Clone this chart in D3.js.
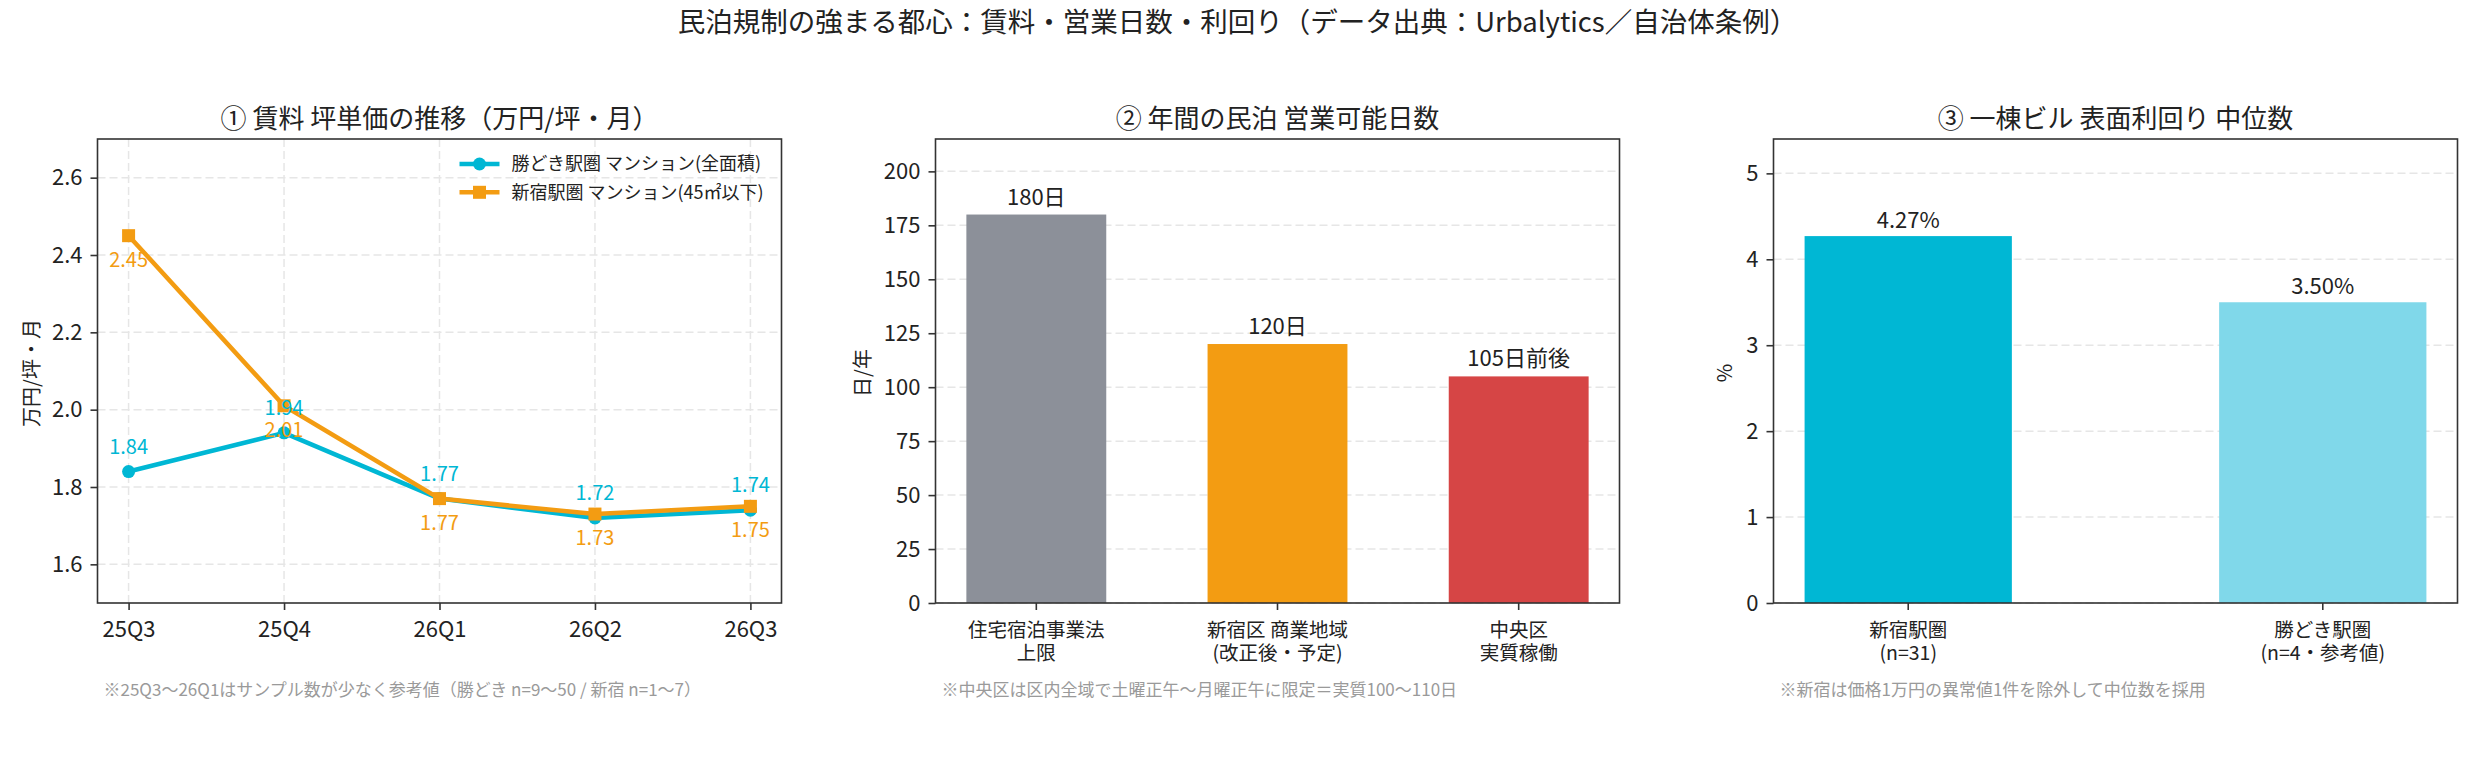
<!DOCTYPE html>
<html>
<head>
<meta charset="utf-8">
<script src="https://cdn.jsdelivr.net/npm/d3@7"></script>
<style>
  body { margin: 0; background: #fff; }
  text { font-family: "Noto Sans CJK JP", "Noto Sans", sans-serif; }
</style>
</head>
<body>
<div id="chart"></div>
<script>
// ---- data ----
var quarters = ["25Q3", "25Q4", "26Q1", "26Q2", "26Q3"];
var kachidoki_rent = [1.84, 1.94, 1.77, 1.72, 1.74];
var shinjuku_rent = [2.45, 2.01, 1.77, 1.73, 1.75];
var rent_ticks = [1.6, 1.8, 2.0, 2.2, 2.4, 2.6];

var day_categories = [["住宅宿泊事業法", "上限"], ["新宿区 商業地域", "(改正後・予定)"], ["中央区", "実質稼働"]];
var day_values = [180, 120, 105];
var day_labels = ["180日", "120日", "105日前後"];
var day_ticks = [0, 25, 50, 75, 100, 125, 150, 175, 200];

var yield_categories = [["新宿駅圏", "(n=31)"], ["勝どき駅圏", "(n=4・参考値)"]];
var yield_values = [4.27, 3.50];
var yield_labels = ["4.27%", "3.50%"];
var yield_ticks = [0, 1, 2, 3, 4, 5];

// ---- layout ----
var svg_width = 2475;
var svg_height = 780;
var panel_left = [97.5, 935.5, 1773.5];
var panel_top = 139;
var panel_width = 684;
var panel_height = 464;

var cyan = "#00b7d4";
var orange = "#f39c12";
var grid_color = "#e6e6e6";
var ink = "#222";

var svg = d3.select("#chart")
    .append("svg")
    .attr("width", svg_width)
    .attr("height", svg_height);

svg.append("text")
    .attr("x", svg_width / 2)
    .attr("y", 32)
    .attr("text-anchor", "middle")
    .attr("font-size", 27.5)
    .attr("fill", ink)
    .text("民泊規制の強まる都心：賃料・営業日数・利回り（データ出典：Urbalytics／自治体条例）");

// panel group with title, y label and footnote
function makePanel(i, title, y_label, label_x, note) {
    var g = svg.append("g")
        .attr("transform", `translate(${panel_left[i]}, ${panel_top})`);
    g.append("text")
        .attr("x", panel_width / 2)
        .attr("y", -11)
        .attr("text-anchor", "middle")
        .attr("font-size", 26)
        .attr("fill", ink)
        .text(title);
    g.append("text")
        .attr("transform", `translate(${label_x}, ${panel_height / 2 + 2}) rotate(-90)`)
        .attr("text-anchor", "middle")
        .attr("dy", "0.35em")
        .attr("font-size", 20)
        .attr("fill", ink)
        .text(y_label);
    g.append("text")
        .attr("x", 6)
        .attr("y", 557)
        .attr("font-size", 17)
        .attr("fill", "#9a9a9a")
        .text(note);
    return g;
}

function drawYAxis(g, scale, ticks, fmt) {
    var ax = g.append("g")
        .call(d3.axisLeft(scale).tickValues(ticks).tickFormat(fmt).tickSize(7).tickPadding(8));
    ax.select(".domain").remove();
    ax.selectAll(".tick line").attr("stroke", "#333").attr("stroke-width", 1.6);
    ax.selectAll(".tick text").attr("font-size", 22).attr("fill", ink);
}

function drawXAxis(g, scale, labels) {
    var ax = g.append("g")
        .attr("transform", `translate(0, ${panel_height})`)
        .call(d3.axisBottom(scale).tickSize(7).tickFormat(""));
    ax.select(".domain").remove();
    ax.selectAll(".tick line").attr("stroke", "#333").attr("stroke-width", 1.6);
    ax.selectAll(".tick text").each(function(d, i) {
        var t = d3.select(this).attr("y", null).attr("dy", null);
        var lines = labels[i];
        if (typeof lines === "string") {
            t.attr("y", 34).attr("font-size", 22).attr("fill", ink).text(lines);
        } else {
            // multi-line category label
            t.attr("font-size", 19.5).attr("fill", ink);
            lines.forEach(function(line, k) {
                t.append("tspan").attr("x", 0).attr("y", 34 + k * 23).text(line);
            });
        }
    });
}

function drawHGrid(g, scale, ticks) {
    g.append("g").selectAll("line")
        .data(ticks)
        .enter()
        .append("line")
        .attr("x1", 0)
        .attr("x2", panel_width)
        .attr("y1", d => scale(d))
        .attr("y2", d => scale(d))
        .attr("stroke", grid_color)
        .attr("stroke-width", 1.5)
        .attr("stroke-dasharray", "8,4");
}

function drawFrame(g) {
    g.append("rect")
        .attr("width", panel_width)
        .attr("height", panel_height)
        .attr("fill", "none")
        .attr("stroke", "#333")
        .attr("stroke-width", 1.6);
}

//----------------------------------------------------------------------------------
// ① rent per tsubo
var p1 = makePanel(0, "① 賃料 坪単価の推移（万円/坪・月）", "万円/坪・月", -65.5,
    "※25Q3〜26Q1はサンプル数が少なく参考値（勝どき n=9〜50 / 新宿 n=1〜7）");

var x1 = d3.scalePoint().domain(quarters).range([0, panel_width]).padding(0.2);
var y1 = d3.scaleLinear().domain([1.5, 2.7]).range([panel_height, 0]);

drawHGrid(p1, y1, rent_ticks);
p1.append("g").selectAll("line")
    .data(quarters)
    .enter()
    .append("line")
    .attr("x1", d => x1(d))
    .attr("x2", d => x1(d))
    .attr("y1", 0)
    .attr("y2", panel_height)
    .attr("stroke", grid_color)
    .attr("stroke-width", 1.5)
    .attr("stroke-dasharray", "8,4");

var rent_series = [
    { name: "勝どき駅圏 マンション(全面積)", values: kachidoki_rent, color: cyan, marker: "circle", label_dy: -18 },
    { name: "新宿駅圏 マンション(45㎡以下)", values: shinjuku_rent, color: orange, marker: "square", label_dy: 31 }
];

var rent_line = d3.line()
    .x((d, i) => x1(quarters[i]))
    .y(d => y1(d));

function drawMarker(g, s, cx, cy) {
    if (s.marker == "circle") {
        g.append("circle").attr("cx", cx).attr("cy", cy).attr("r", 6.5).attr("fill", s.color);
    } else {
        g.append("rect").attr("x", cx - 6.5).attr("y", cy - 6.5).attr("width", 13).attr("height", 13).attr("fill", s.color);
    }
}

rent_series.forEach(function(s) {
    p1.append("path")
        .datum(s.values)
        .attr("d", rent_line)
        .attr("fill", "none")
        .attr("stroke", s.color)
        .attr("stroke-width", 4.5)
        .attr("stroke-linejoin", "round");
    s.values.forEach(function(v, i) {
        drawMarker(p1, s, x1(quarters[i]), y1(v));
    });
});

rent_series.forEach(function(s) {
    p1.append("g").selectAll("text")
        .data(s.values)
        .enter()
        .append("text")
        .attr("x", (d, i) => x1(quarters[i]))
        .attr("y", d => y1(d) + s.label_dy)
        .attr("text-anchor", "middle")
        .attr("font-size", 20)
        .attr("fill", s.color)
        .text(d => d.toFixed(2));
});

// legend
var legend = p1.append("g").attr("transform", "translate(362, 25)");
rent_series.forEach(function(s, i) {
    var row = legend.append("g").attr("transform", `translate(0, ${i * 28.3})`);
    row.append("line").attr("x1", 0).attr("x2", 40).attr("stroke", s.color).attr("stroke-width", 4.5);
    drawMarker(row, s, 20, 0);
    row.append("text")
        .attr("x", 52)
        .attr("dy", "0.35em")
        .attr("font-size", 18)
        .attr("fill", ink)
        .text(s.name);
});

drawYAxis(p1, y1, rent_ticks, d3.format(".1f"));
drawXAxis(p1, x1, quarters);
drawFrame(p1);

//----------------------------------------------------------------------------------
// ② operating days
var p2 = makePanel(1, "② 年間の民泊 営業可能日数", "日/年", -72.5,
    "※中央区は区内全域で土曜正午〜月曜正午に限定＝実質100〜110日");

var x2 = d3.scaleBand().domain(d3.range(day_values.length)).range([0, panel_width])
    .paddingInner(0.42).paddingOuter(0.128);
var y2 = d3.scaleLinear().domain([0, 215]).range([panel_height, 0]);
var day_colors = ["#8c9099", orange, "#d64545"];

drawHGrid(p2, y2, day_ticks);

p2.selectAll(".day-bar")
    .data(day_values)
    .enter()
    .append("rect")
    .attr("class", "day-bar")
    .attr("x", (d, i) => x2(i))
    .attr("width", x2.bandwidth())
    .attr("y", d => y2(d))
    .attr("height", d => panel_height - y2(d))
    .attr("fill", (d, i) => day_colors[i]);

p2.selectAll(".day-label")
    .data(day_values)
    .enter()
    .append("text")
    .attr("class", "day-label")
    .attr("x", (d, i) => x2(i) + x2.bandwidth() / 2)
    .attr("y", d => y2(d) - 10)
    .attr("text-anchor", "middle")
    .attr("font-size", 22)
    .attr("fill", ink)
    .text((d, i) => day_labels[i]);

drawYAxis(p2, y2, day_ticks, d3.format("d"));
drawXAxis(p2, x2, day_categories);
drawFrame(p2);

//----------------------------------------------------------------------------------
// ③ gross yield
var p3 = makePanel(2, "③ 一棟ビル 表面利回り 中位数", "%", -48.5,
    "※新宿は価格1万円の異常値1件を除外して中位数を採用");

var x3 = d3.scaleBand().domain(d3.range(yield_values.length)).range([0, panel_width])
    .paddingInner(0.5).paddingOuter(0.075);
var y3 = d3.scaleLinear().domain([0, 5.4]).range([panel_height, 0]);
var yield_colors = [cyan, "#80d8ea"];

drawHGrid(p3, y3, yield_ticks);

p3.selectAll(".yield-bar")
    .data(yield_values)
    .enter()
    .append("rect")
    .attr("class", "yield-bar")
    .attr("x", (d, i) => x3(i))
    .attr("width", x3.bandwidth())
    .attr("y", d => y3(d))
    .attr("height", d => panel_height - y3(d))
    .attr("fill", (d, i) => yield_colors[i]);

p3.selectAll(".yield-label")
    .data(yield_values)
    .enter()
    .append("text")
    .attr("class", "yield-label")
    .attr("x", (d, i) => x3(i) + x3.bandwidth() / 2)
    .attr("y", d => y3(d) - 8)
    .attr("text-anchor", "middle")
    .attr("font-size", 22)
    .attr("fill", ink)
    .text((d, i) => yield_labels[i]);

drawYAxis(p3, y3, yield_ticks, d3.format("d"));
drawXAxis(p3, x3, yield_categories);
drawFrame(p3);
</script>
</body>
</html>
